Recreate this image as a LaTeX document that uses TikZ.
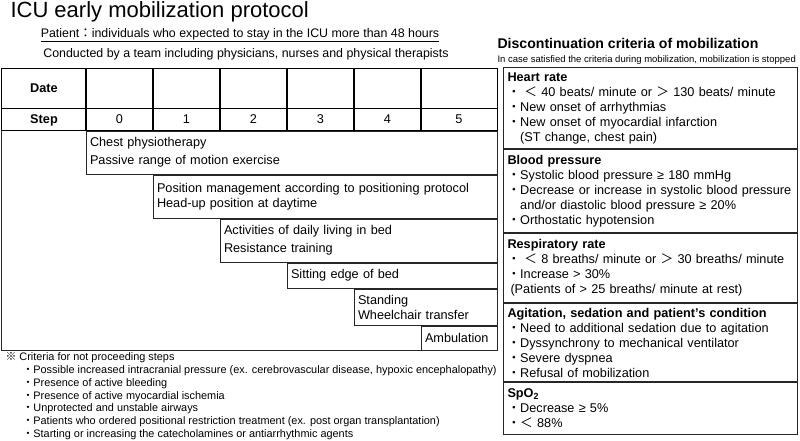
\documentclass[tikz,border=0pt]{standalone}
\usepackage{fontspec}
\setmainfont{Liberation Sans}
\newfontfamily\cjk{Noto Sans CJK JP}
\usetikzlibrary{matrix,positioning,calc}

\newcommand{\bodyfnt}{\fontsize{12.7pt}{15pt}\selectfont}
\newcommand{\notefnt}{\fontsize{10.9pt}{12.85pt}\selectfont}
\newcommand{\bul}{{\cjk ・}}
\newcommand{\cont}{\phantom{\bul}}

\tikzset{
hdrmat/.style={
  matrix of nodes,
  nodes in empty cells,
  inner sep=0pt,
  column sep=-\pgflinewidth,
  row sep=-\pgflinewidth,
  nodes={draw, font=\bodyfnt, minimum width=67pt, text height=9.2pt,
         text depth=0pt, inner sep=0pt, anchor=center},
  row 1/.style={nodes={minimum height=40pt}},
  row 2/.style={nodes={minimum height=22pt}},
  column 1/.style={nodes={minimum width=84pt, font=\bodyfnt\bfseries}},
  column 7/.style={nodes={minimum width=76pt}}
  },
stepbar/.style={draw, anchor=north west, inner xsep=4pt, inner ysep=0pt,
  align=left, font=\bodyfnt},
critbox/.style={draw, anchor=north west, text width=286pt, inner xsep=4pt,
  inner ysep=0pt, align=left, font=\bodyfnt},
txt/.style={inner sep=0pt, anchor=base west}
}

\begin{document}
\begin{tikzpicture}[x=1pt, y=-1pt, line width=1pt, draw=black!85]
  \useasboundingbox (0,0) rectangle (800,440);

  \node[txt, font=\fontsize{22pt}{24pt}\selectfont] (title) at (10,17.5)
    {ICU early mobilization protocol};
  \node[inner sep=0pt, anchor=base, font=\fontsize{12.4pt}{15pt}\selectfont] (patient) at (240,37)
    {\underline{Patient{\cjk ：}individuals who expected to stay in the ICU more than 48 hours}};
  \node[inner sep=0pt, anchor=base, font=\fontsize{12.4pt}{15pt}\selectfont] (team) at (246,57)
    {Conducted by a team including physicians, nurses and physical therapists};

  \matrix[hdrmat, anchor=north west] at (1,67)
  (hdr) {
    |(date)| Date & & & & & & \\
    |(step)| Step &
    |(s0)| 0 &
    |(s1)| 1 &
    |(s2)| 2 &
    |(s3)| 3 &
    |(s4)| 4 &
    |(s5)| 5 \\
  };

  \node[stepbar, text width=403pt, minimum height=43pt] (bar0) at (s0.south west)
    {Chest physiotherapy\\[3pt] Passive range of motion exercise};
  \node[stepbar, text width=336pt, minimum height=43pt] (bar1) at (bar0.south -| s1.west)
    {Position management according to positioning protocol\\ Head-up position at daytime};
  \node[stepbar, text width=269pt, minimum height=43pt] (bar2) at (bar1.south -| s2.west)
    {Activities of daily living in bed\\[3pt] Resistance training};
  \node[stepbar, text width=202pt, minimum height=25pt] (bar3) at (bar2.south -| s3.west)
    {Sitting edge of bed};
  \node[stepbar, text width=135pt, minimum height=36pt] (bar4) at (bar3.south -| s4.west)
    {Standing\\ Wheelchair transfer};
  \node[stepbar, text width=68pt, minimum height=24pt] (bar5) at (bar4.south -| s5.west)
    {Ambulation};

  \draw (hdr.south west) |- (bar5.south west);

  \node[txt, anchor=north west, align=left, font=\notefnt] (notproceed) at (5,352)
    {{\cjk ※} Criteria for not proceeding steps\\
     \hspace*{17pt}\bul Possible increased intracranial pressure (ex. cerebrovascular disease, hypoxic encephalopathy)\\
     \hspace*{17pt}\bul Presence of active bleeding\\
     \hspace*{17pt}\bul Presence of active myocardial ischemia\\
     \hspace*{17pt}\bul Unprotected and unstable airways\\
     \hspace*{17pt}\bul Patients who ordered positional restriction treatment (ex. post organ transplantation)\\
     \hspace*{17pt}\bul Starting or increasing the catecholamines or antiarrhythmic agents};

  \node[txt, font=\fontsize{14.1pt}{16pt}\selectfont\bfseries] (disc) at (497,48.3)
    {Discontinuation criteria of mobilization};
  \node[txt, font=\fontsize{9.5pt}{11pt}\selectfont] (discnote) at (497,62.7)
    {In case satisfied the criteria during mobilization, mobilization is stopped};

  \node[critbox, minimum height=81pt] (hr) at (503,67)
    {\textbf{Heart rate}\\
     \bul\ {\cjk ＜} 40 beats/ minute or {\cjk ＞} 130 beats/ minute\\
     \bul New onset of arrhythmias\\
     \bul New onset of myocardial infarction\\
     \cont(ST change, chest pain)};
  \node[critbox, minimum height=83pt] (bp) at (hr.south west)
    {\textbf{Blood pressure}\\
     \bul Systolic blood pressure ≥ 180 mmHg\\
     \bul Decrease or increase in systolic blood pressure\\
     \cont and/or diastolic blood pressure ≥ 20\%\\
     \bul Orthostatic hypotension};
  \node[critbox, minimum height=69pt] (rr) at (bp.south west)
    {\textbf{Respiratory rate}\\
     \bul\ {\cjk ＜} 8 breaths/ minute or {\cjk ＞} 30 breaths/ minute\\
     \bul Increase > 30\%\\
     \hspace*{3pt}(Patients of > 25 breaths/ minute at rest)};
  \node[critbox, minimum height=78pt] (ag) at (rr.south west)
    {\textbf{Agitation, sedation and patient's condition}\\
     \bul Need to additional sedation due to agitation\\
     \bul Dyssynchrony to mechanical ventilator\\
     \bul Severe dyspnea\\
     \bul Refusal of mobilization};
  \node[critbox, minimum height=52pt] (spo) at (ag.south west)
    {\textbf{SpO\textsubscript{2}}\\
     \bul Decrease ≥ 5\%\\
     \bul{\cjk ＜} 88\%};

\end{tikzpicture}
\end{document}
